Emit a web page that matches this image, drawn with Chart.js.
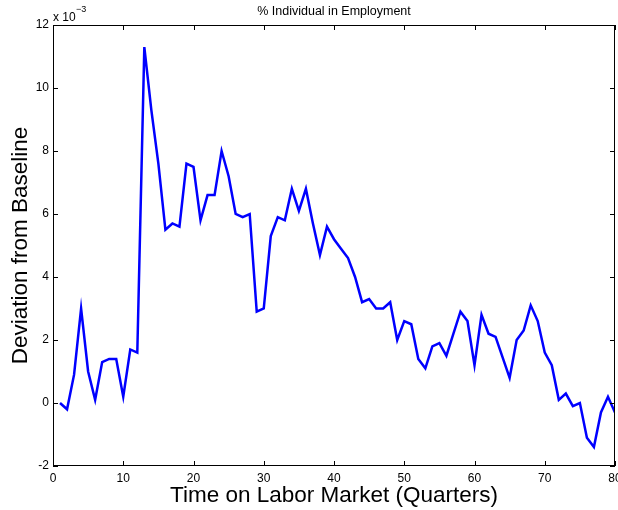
<!DOCTYPE html>
<html>
<head>
<meta charset="utf-8">
<script src="https://cdn.jsdelivr.net/npm/chart.js@4.4.0/dist/chart.umd.min.js"></script>
<style>
  html, body { margin: 0; padding: 0; background: #ffffff; }
  #grafico-wrap { width: 618px; height: 510px; }
</style>
</head>
<body>
<div id="grafico-wrap"><canvas id="graficoEmprego" width="618" height="510"></canvas></div>
<script>
// ---------- DADOS ----------

var trimestres = [
  1, 2, 3, 4, 5, 6, 7, 8, 9, 10,
  11, 12, 13, 14, 15, 16, 17, 18, 19, 20,
  21, 22, 23, 24, 25, 26, 27, 28, 29, 30,
  31, 32, 33, 34, 35, 36, 37, 38, 39, 40,
  41, 42, 43, 44, 45, 46, 47, 48, 49, 50,
  51, 52, 53, 54, 55, 56, 57, 58, 59, 60,
  61, 62, 63, 64, 65, 66, 67, 68, 69, 70,
  71, 72, 73, 74, 75, 76, 77, 78, 79, 80
];

// desvio em relação à linha de base (x 10^-3)
var desvio = [
  0.0, -0.2, 0.9, 3.0, 1.0, 0.1, 1.3, 1.4, 1.4, 0.2,
  1.7, 1.6, 11.3, 9.3, 7.6, 5.5, 5.7, 5.6, 7.6, 7.5,
  5.8, 6.6, 6.6, 8.0, 7.2, 6.0, 5.9, 6.0, 2.9, 3.0,
  5.3, 5.9, 5.8, 6.8, 6.1, 6.8, 5.7, 4.7, 5.6, 5.2,
  4.9, 4.6, 4.0, 3.2, 3.3, 3.0, 3.0, 3.2, 2.0, 2.6,
  2.5, 1.4, 1.1, 1.8, 1.9, 1.5, 2.2, 2.9, 2.6, 1.2,
  2.8, 2.2, 2.1, 1.45, 0.8, 2.0, 2.3, 3.1, 2.6, 1.6,
  1.2, 0.1, 0.3, -0.1, 0.0, -1.1, -1.4, -0.3, 0.2, -0.3
];

var ticksX = [0, 10, 20, 30, 40, 50, 60, 70, 80];
var ticksY = [-2, 0, 2, 4, 6, 8, 10, 12];

var TITULO = "% Individual in Employment";
var FONTE = "'Liberation Sans', Arial, Helvetica, sans-serif";

// ---------- PLUGIN: título, caixa, marcas internas e expoente ----------

var pluginEixos = {
  id: "eixosMatlab",
  afterDraw: function (chart) {
    var ctx = chart.ctx;
    var area = chart.chartArea;
    var escalaX = chart.scales.x;
    var escalaY = chart.scales.y;
    var tam = 5;

    ctx.save();
    ctx.strokeStyle = "#000000";
    ctx.lineWidth = 1;
    ctx.strokeRect(area.left + 0.5, area.top + 0.5, area.right - area.left - 1, area.bottom - area.top - 1);

    ctx.beginPath();
    for (var i = 0; i < ticksX.length; i++) {
      var px = Math.round(escalaX.getPixelForValue(ticksX[i])) + 0.5;
      ctx.moveTo(px, area.bottom);
      ctx.lineTo(px, area.bottom - tam);
      ctx.moveTo(px, area.top);
      ctx.lineTo(px, area.top + tam);
    }
    for (var j = 0; j < ticksY.length; j++) {
      var py = Math.round(escalaY.getPixelForValue(ticksY[j])) + 0.5;
      ctx.moveTo(area.left, py);
      ctx.lineTo(area.left + tam, py);
      ctx.moveTo(area.right, py);
      ctx.lineTo(area.right - tam, py);
    }
    ctx.stroke();

    ctx.fillStyle = "#000000";

    // título centrado sobre a área do gráfico
    ctx.textAlign = "center";
    ctx.textBaseline = "middle";
    ctx.font = "12.5px " + FONTE;
    ctx.fillText(TITULO, (area.left + area.right) / 2, 12);

    // expoente do eixo y
    ctx.textBaseline = "alphabetic";
    ctx.textAlign = "left";
    ctx.font = "12px " + FONTE;
    ctx.fillText("x 10", area.left, area.top - 4);
    ctx.font = "9px " + FONTE;
    ctx.fillText("\u22123", area.left + 23, area.top - 13);
    ctx.restore();
  }
};

// ---------- GRÁFICO ----------

function montarPontos() {
  var pontos = [];
  for (var i = 0; i < trimestres.length; i++) {
    pontos.push({ x: trimestres[i], y: desvio[i] });
  }
  return pontos;
}

function desenharGrafico() {
  var ctx = document.getElementById("graficoEmprego");

  new Chart(ctx, {
    type: "line",
    data: {
      datasets: [
        {
          label: TITULO,
          data: montarPontos(),
          borderColor: "#0000ff",
          borderWidth: 2.5,
          pointRadius: 0,
          tension: 0,
          fill: false,
        },
      ],
    },
    options: {
      responsive: false,
      animation: false,
      layout: {
        padding: { top: 25, right: 3, left: 0, bottom: 0 },
      },
      plugins: {
        legend: { display: false },
        tooltip: { enabled: false },
      },
      scales: {
        x: {
          type: "linear",
          min: 0,
          max: 80,
          afterBuildTicks: function (escala) {
            escala.ticks = ticksX.map(function (v) { return { value: v }; });
          },
          afterFit: function (escala) {
            escala.height = 44;
            // o rótulo "80" pode sair pela borda, como no original
            escala.paddingLeft = 0;
            escala.paddingRight = 0;
          },
          grid: { display: false, drawTicks: false },
          border: { display: false },
          ticks: {
            color: "#000000",
            font: { family: FONTE, size: 12 },
            padding: 5,
            maxRotation: 0,
          },
          title: {
            display: true,
            text: "Time on Labor Market (Quarters)",
            color: "#000000",
            font: { family: FONTE, size: 22.5 },
            padding: { top: 0, bottom: 1 },
          },
        },
        y: {
          type: "linear",
          min: -2,
          max: 12,
          afterBuildTicks: function (escala) {
            escala.ticks = ticksY.map(function (v) { return { value: v }; });
          },
          afterFit: function (escala) {
            escala.width = 53;
            escala.paddingTop = 0;
            escala.paddingBottom = 0;
          },
          grid: { display: false, drawTicks: false },
          border: { display: false },
          ticks: {
            color: "#000000",
            font: { family: FONTE, size: 12 },
            padding: 4,
            callback: function (valor) {
              return String(valor);
            },
          },
          title: {
            display: true,
            text: "Deviation from Baseline",
            color: "#000000",
            font: { family: FONTE, size: 22.5 },
            padding: { top: 7, bottom: 0 },
          },
        },
      },
    },
    plugins: [pluginEixos],
  });
}

desenharGrafico();
</script>
</body>
</html>
